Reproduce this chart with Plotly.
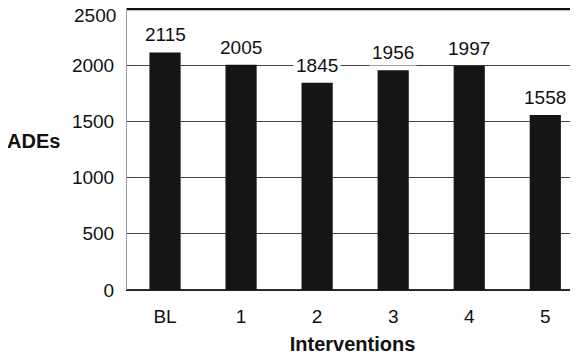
import plotly.graph_objects as go

categories = ["BL", "1", "2", "3", "4", "5"]
values = [2115, 2005, 1845, 1956, 1997, 1558]
y_ticks = [0, 500, 1000, 1500, 2000]
y_top = 2500
y_max = 2510
x_range = [-0.5, 5.43]

FONT = "Liberation Sans, Arial, sans-serif"

fig = go.Figure()
fig.add_trace(go.Bar(
    x=categories, y=values,
    marker=dict(color="#151515", line=dict(width=0)),
    width=0.41,
))

# top border line drawn as an unclipped line on a numeric overlay x axis
fig.add_trace(go.Scatter(
    x=x_range, y=[y_top, y_top], xaxis="x2", mode="lines",
    line=dict(color="#111", width=2.5), cliponaxis=False, hoverinfo="skip",
))

for c, v in zip(categories, values):
    fig.add_annotation(
        x=c, y=v, text=str(v), showarrow=False,
        yanchor="bottom", yshift=4,
        font=dict(family=FONT, size=19, color="#111"),
        bgcolor="white", borderpad=2,
    )

# top tick label (sits just below the top line, as in the reference)
fig.add_annotation(
    x=0, xref="paper", y=y_top, yref="y", xshift=-10, yshift=-6,
    text=str(y_top), showarrow=False, xanchor="right", yanchor="middle",
    font=dict(family=FONT, size=19, color="#111"), borderpad=0,
)

fig.add_annotation(
    xref="paper", yref="paper", x=-0.145, y=0.53,
    text="<b>ADEs</b>", showarrow=False, xanchor="right",
    font=dict(family=FONT, size=20, color="#111"),
)

fig.add_shape(type="line", xref="paper", yref="y", x0=0, x1=1, y0=y_top, y1=y_top,
              line=dict(color="#111", width=1.5), layer="above")

fig.update_layout(
    width=570, height=350,
    margin=dict(l=119, r=0, t=0, b=68),
    plot_bgcolor="white", paper_bgcolor="white",
    showlegend=False,
    font=dict(family=FONT, size=19, color="#111"),
    xaxis=dict(
        range=x_range, automargin=False,
        showgrid=False, showline=True,
        linecolor="#222", linewidth=1, zeroline=False,
        ticks="", tickfont=dict(size=19), ticklabelstandoff=9,
        title=dict(text="<b>Interventions</b>", font=dict(size=20), standoff=11),
    ),
    xaxis2=dict(
        range=x_range, overlaying="x", visible=False,
    ),
    yaxis=dict(
        range=[0, y_max], tickvals=y_ticks, automargin=False,
        showgrid=True, gridcolor="#444", gridwidth=1,
        showline=True, linecolor="#999", linewidth=1,
        zeroline=True, zerolinecolor="#333", zerolinewidth=1.5,
        ticks="", ticklabelstandoff=8, tickfont=dict(size=19),
    ),
)

fig.write_html("out.html")
